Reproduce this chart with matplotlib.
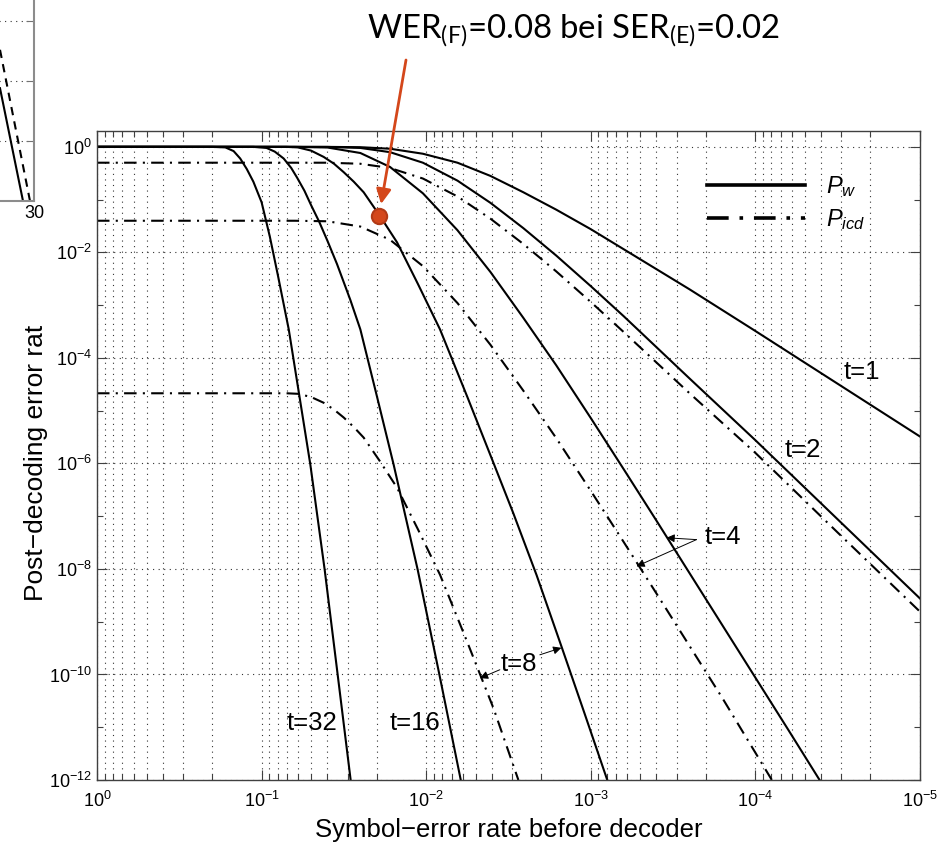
import numpy as np
import matplotlib
matplotlib.use("Agg")
import matplotlib.pyplot as plt
from matplotlib.patches import Rectangle
from matplotlib.ticker import NullFormatter, LogLocator

plt.rcParams['font.family'] = ['Liberation Sans', 'DejaVu Sans']
plt.rcParams['mathtext.fontset'] = 'custom'
plt.rcParams['mathtext.rm'] = 'Liberation Sans'
plt.rcParams['mathtext.it'] = 'Liberation Sans:italic'

# log10 of symbol-error rate (x) and post-decoding error rate (y)
# P_w curves
t1_x = [0, -1.0, -1.4, -1.6, -1.78, -1.98, -2.19, -2.39, -2.59, -2.79, -3.0, -3.2, -3.4, -3.6, -4.0, -4.5, -5.0]
t1_y = [0, 0, 0, -0.006, -0.035, -0.13, -0.30, -0.55, -0.86, -1.19, -1.56, -1.94, -2.32, -2.70, -3.49, -4.49, -5.49]
t2_x = [0, -1.2, -1.4, -1.6, -1.78, -1.98, -2.19, -2.39, -2.59, -2.79, -3.0, -3.2, -3.6, -4.0, -4.5, -5.0]
t2_y = [0, 0, -0.001, -0.02, -0.10, -0.30, -0.64, -1.06, -1.54, -2.06, -2.64, -3.21, -4.39, -5.56, -7.06, -8.56]
t4_x = [0, -1.2, -1.4, -1.6, -1.78, -1.98, -2.19, -2.39, -2.59, -2.79, -3.0, -3.2, -3.4, -3.8, -4.2, -4.39]
t4_y = [0, 0, -0.012, -0.116, -0.38, -0.88, -1.58, -2.37, -3.24, -4.14, -5.14, -6.11, -7.09, -9.07, -11.05, -12.0]
t8_x = [0, -1.15, -1.22, -1.30, -1.377, -1.44, -1.499, -1.56, -1.62, -1.717, -1.823, -1.95, -2.084, -2.25, -2.41, -2.53, -2.671, -2.823, -2.96, -3.10]
t8_y = [0, 0, -0.01, -0.07, -0.19, -0.32, -0.48, -0.66, -0.86, -1.30, -1.81, -2.60, -3.46, -4.74, -6.00, -6.95, -8.12, -9.48, -10.72, -12.0]
t16_x = [0, -0.95, -1.03, -1.08, -1.134, -1.18, -1.215, -1.26, -1.30, -1.35, -1.40, -1.458, -1.539, -1.60, -1.70, -1.802, -1.948, -2.08, -2.21]
t16_y = [0, 0, -0.02, -0.09, -0.22, -0.40, -0.58, -0.83, -1.10, -1.42, -1.78, -2.22, -2.90, -3.46, -4.72, -6.02, -8.01, -10.0, -12.0]
t32_x = [0, -0.70, -0.78, -0.83, -0.87, -0.91, -0.95, -1.00, -1.05, -1.10, -1.165, -1.23, -1.296, -1.383, -1.46, -1.541]
t32_y = [0, 0, -0.01, -0.08, -0.22, -0.42, -0.66, -1.05, -1.70, -2.45, -3.46, -4.73, -6.02, -8.01, -9.95, -12.0]
# P_icd curves
icd2_x = [0, -1.4, -1.6, -1.78, -1.98, -2.19, -2.39, -2.59, -2.79, -3.0, -3.2, -3.6, -4.0, -4.5, -5.0]
icd2_y = [-0.30, -0.30, -0.32, -0.40, -0.60, -0.94, -1.36, -1.84, -2.36, -2.94, -3.51, -4.67, -5.80, -7.31, -8.81]
icd4_x = [0, -1.2, -1.4, -1.6, -1.78, -1.98, -2.19, -2.39, -2.59, -2.79, -3.0, -3.2, -3.4, -3.8, -4.1]
icd4_y = [-1.40, -1.40, -1.41, -1.51, -1.76, -2.26, -2.96, -3.75, -4.62, -5.52, -6.52, -7.49, -8.47, -10.45, -12.0]
icd8_x = [0, -1.15, -1.22, -1.30, -1.377, -1.44, -1.499, -1.56, -1.62, -1.717, -1.823, -1.95, -2.084, -2.25, -2.41, -2.56]
icd8_y = [-4.67, -4.67, -4.68, -4.74, -4.85, -4.98, -5.13, -5.31, -5.51, -5.95, -6.46, -7.25, -8.11, -9.39, -10.65, -12.0]

pw_curves = [(t1_x, t1_y), (t2_x, t2_y), (t4_x, t4_y), (t8_x, t8_y), (t16_x, t16_y), (t32_x, t32_y)]
icd_curves = [(icd2_x, icd2_y), (icd4_x, icd4_y), (icd8_x, icd8_y)]

# highlighted operating point
point_ser = [0.0193]
point_wer = [0.050]

# fragment of the neighbouring chart (top left corner)
frag_x_solid = [26.6, 28.9]
frag_y_solid = [1.88, 0.0]
frag_x_dash = [26.6, 29.6]
frag_y_dash = [2.52, 0.0]

orange = '#D4471B'

fig = plt.figure(figsize=(9.45, 8.44), dpi=100)
ax = fig.add_axes([97/945, 1-780/844, 823/945, 649/844])

for i, (x, y) in enumerate(pw_curves):
    ax.plot(10.0**np.array(x), 10.0**np.array(y), color='k', lw=1.5,
            label='$P_w$' if i == 0 else None)
for i, (x, y) in enumerate(icd_curves):
    ax.plot(10.0**np.array(x), 10.0**np.array(y), color='k', lw=1.5,
            ls=(0, (6, 3, 1, 3)), label='$P_{icd}$' if i == 0 else None)

ax.set_xscale('log')
ax.set_yscale('log')
ax.set_xlim(1, 1e-5)
ax.set_ylim(1e-12, 2)
ax.xaxis.set_major_locator(LogLocator(base=10, numticks=10))
ax.xaxis.set_minor_locator(LogLocator(base=10, subs=np.arange(2, 10), numticks=20))
ax.xaxis.set_minor_formatter(NullFormatter())
ax.set_yticks([10.0**k for k in range(-12, 1, 2)])
ax.set_yticks([10.0**k for k in range(-11, 0, 2)], minor=True)
ax.yaxis.set_minor_formatter(NullFormatter())
ax.tick_params(which='both', direction='in', top=True, right=True, color='0.25', width=0.8, labelsize=13)
ax.tick_params(which='major', length=7)
ax.tick_params(which='minor', length=4)
ax.tick_params(axis='x', pad=8)
for s in ax.spines.values():
    s.set_color('0.25')
    s.set_linewidth(1.0)
ax.grid(True, which='major', axis='both', ls=(0, (1, 4)), lw=0.8, color='0.2')
ax.grid(True, which='minor', axis='x', ls=(0, (1, 4)), lw=0.8, color='0.2')

ax.set_xlabel('Symbol\u2212error rate before decoder', fontsize=18.5, labelpad=5)
ax.set_ylabel('Post\u2212decoding error rate', fontsize=19, labelpad=1)

leg = ax.legend(loc='center left', bbox_to_anchor=(0.741, 0.889), frameon=False, fontsize=17,
                handlelength=4.15, handletextpad=0.9, borderpad=0, borderaxespad=0,
                labelspacing=0.35)
for h in leg.get_lines():
    h.set_linewidth(2.6)

# curve labels
lab = dict(fontsize=18.5, ha='center', va='center')
ax.text(2.26e-5, 5.4e-5, 't=1', **lab)
ax.text(5.16e-5, 1.77e-6, 't=2', **lab)
ax.text(1.58e-4, 4.1e-8, 't=4', **lab)
ax.text(2.74e-3, 1.58e-10, 't=8', **lab)
ax.text(1.17e-2, 1.21e-11, 't=16', **lab)
ax.text(4.95e-2, 1.21e-11, 't=32', **lab)

arr = dict(arrowstyle='-|>', lw=0.7, color='k', mutation_scale=12, shrinkA=0, shrinkB=0)
ax.annotate('', xy=(3.47e-4, 3.9e-8), xytext=(2.28e-4, 3.6e-8), arrowprops=arr)
ax.annotate('', xy=(5.28e-4, 1.12e-8), xytext=(2.28e-4, 3.6e-8), arrowprops=arr)
ax.annotate('', xy=(1.51e-3, 3.2e-10), xytext=(2.04e-3, 2.36e-10), arrowprops=arr)
ax.annotate('', xy=(4.72e-3, 8.5e-11), xytext=(3.57e-3, 1.23e-10), arrowprops=arr)

# highlighted point and callout
ax.plot(point_ser, point_wer, 'o', ms=11, mfc=orange, mec='#B23A16', mew=1.5, zorder=5)
ax.annotate('', xy=(0.0188, 0.0826), xycoords='data', xytext=(406, 844-60),
            textcoords='figure pixels',
            arrowprops=dict(arrowstyle='-|>', color=orange, lw=2, mutation_scale=22,
                            shrinkA=0, shrinkB=0), annotation_clip=False)
fig.text(367/945, 1-38/844, r'WER$_{\mathdefault{(F)}}$=0.08 bei SER$_{\mathdefault{(E)}}$=0.02',
         fontsize=23.7, family='Lato', ha='left', va='baseline')

# white patch with the fragment of the neighbouring chart
fig.add_artist(Rectangle((0, 1-326/844), 47/945, 326/844, transform=fig.transFigure,
                         facecolor='white', edgecolor='none', zorder=5))
fax = fig.add_axes([-60/945, 1-201/844, 94/945, 240/844], zorder=6)
fax.plot(frag_x_solid, frag_y_solid, color='k', lw=1.5)
fax.plot(frag_x_dash, frag_y_dash, color='k', lw=1.5, ls=(0, (4, 3)))
fax.set_xlim(20.6, 30)
fax.set_ylim(0, 4)
fax.set_yticks([1, 2, 3])
fax.set_xticks([30])
fax.set_xticklabels(['30'])
fax.yaxis.set_ticklabels([])
fax.tick_params(axis='y', direction='in', left=False, right=True, length=6, color='0.45')
fax.tick_params(axis='x', length=0, labelsize=13, pad=3)
fax.grid(True, axis='y', ls=(0, (1, 4)), lw=0.8, color='0.2')
for side in ['top', 'left']:
    fax.spines[side].set_visible(False)
for side in ['right', 'bottom']:
    fax.spines[side].set_color('0.55')
    fax.spines[side].set_linewidth(1.5)

fig.savefig('out.png', dpi=100, facecolor='white')
